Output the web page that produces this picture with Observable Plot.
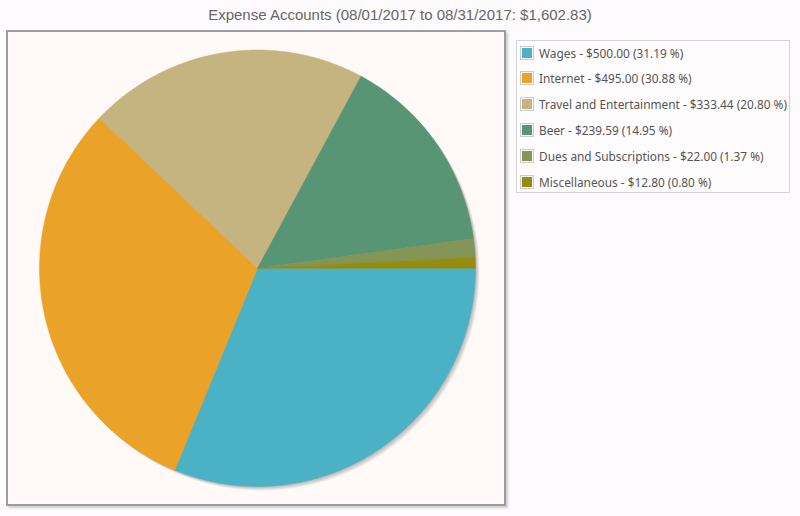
<!DOCTYPE html>
<html>
<head>
<meta charset="utf-8">
<script src="https://cdn.jsdelivr.net/npm/d3@7"></script>
<script src="https://cdn.jsdelivr.net/npm/@observablehq/plot@0.6"></script>
<style>
  html, body { margin: 0; padding: 0; background: #fdfbfd; }
  #wrap { position: relative; width: 800px; height: 516px; overflow: hidden; }
  #title { position: absolute; left: 0; top: 6px; width: 800px; text-align: center;
    font-family: "Liberation Sans", Arial, sans-serif; font-size: 15px; color: #666; }
  #box { position: absolute; left: 6px; top: 30px; width: 496px; height: 472px;
    border: 2px solid #9d9ca2; background: #fffaf8; box-shadow: 2px 2px 2px rgba(0,0,0,0.18); }
  #chart { position: absolute; left: 0; top: 0; }
  #legend { position: absolute; left: 516px; top: 40px; width: 272px; height: 151px;
    border: 1px solid #d4d4d4; background: #fffcfd;
    font-family: "Noto Sans", sans-serif; font-size: 11.85px; color: #555; }
  .row { position: absolute; left: 3px; height: 20px; display: flex; align-items: center; white-space: nowrap; }
  .sw { border: 1px solid #ccc; padding: 1px; margin-right: 5px; }
  .sw div { width: 10px; height: 10px; }
</style>
</head>
<body>
<div id="wrap">
  <div id="box"></div>
  <div id="title"></div>
  <div id="chart"></div>
  <div id="legend"></div>
</div>
<script>
const title = "Expense Accounts (08/01/2017 to 08/31/2017: $1,602.83)";
const categories = ["Wages", "Internet", "Travel and Entertainment", "Beer", "Dues and Subscriptions", "Miscellaneous"];
const amounts = [500.00, 495.00, 333.44, 239.59, 22.00, 12.80];
const amountLabels = ["$500.00", "$495.00", "$333.44", "$239.59", "$22.00", "$12.80"];
const percentLabels = ["31.19 %", "30.88 %", "20.80 %", "14.95 %", "1.37 %", "0.80 %"];
const colors = ["#4bb2c5", "#eaa228", "#c5b47f", "#579575", "#839557", "#958c12"];

document.getElementById("title").textContent = title;

// build slice outlines in unit coordinates (clockwise on screen from 3 o'clock)
const total = d3.sum(amounts);
const pts = [];
let start = 0;
categories.forEach((c, i) => {
  const end = start + amounts[i] / total * 2 * Math.PI;
  pts.push({cat: c, x: 0, y: 0});
  const n = Math.max(2, Math.ceil((end - start) / (Math.PI / 360)));
  for (let k = 0; k <= n; k++) {
    const a = start + (end - start) * k / n;
    pts.push({cat: c, x: Math.cos(a), y: -Math.sin(a)});
  }
  pts.push({cat: c, x: 0, y: 0});
  start = end;
});
const circle = d3.range(0, 721).map(k => ({x: Math.cos(k * Math.PI / 360), y: Math.sin(k * Math.PI / 360)}));

const shadows = [1, 2, 3, 4, 5].map(s => Plot.line(circle, {
  x: "x", y: "y", fill: "#000", fillOpacity: 0.055, stroke: "none", dx: s * 0.8, dy: s * 0.8
}));

const chart = Plot.plot({
  width: 800, height: 516,
  marginLeft: 39, marginRight: 325, marginTop: 49.5, marginBottom: 30,
  x: {domain: [-1, 1], axis: null},
  y: {domain: [-1, 1], axis: null},
  color: {domain: categories, range: colors},
  style: {background: "transparent", overflow: "visible"},
  marks: [
    ...shadows,
    Plot.line(pts, {x: "x", y: "y", z: "cat", fill: "cat", stroke: "cat", strokeWidth: 0.5, curve: "linear"})
  ]
});
document.getElementById("chart").appendChild(chart);

const legend = document.getElementById("legend");
categories.forEach((c, i) => {
  const row = document.createElement("div");
  row.className = "row";
  row.style.top = (1.5 + i * 25.8) + "px";
  row.innerHTML = `<span class="sw"><div style="background:${colors[i]}"></div></span><span></span>`;
  row.lastChild.textContent = `${c} - ${amountLabels[i]} (${percentLabels[i]})`;
  legend.appendChild(row);
});
</script>
</body>
</html>
